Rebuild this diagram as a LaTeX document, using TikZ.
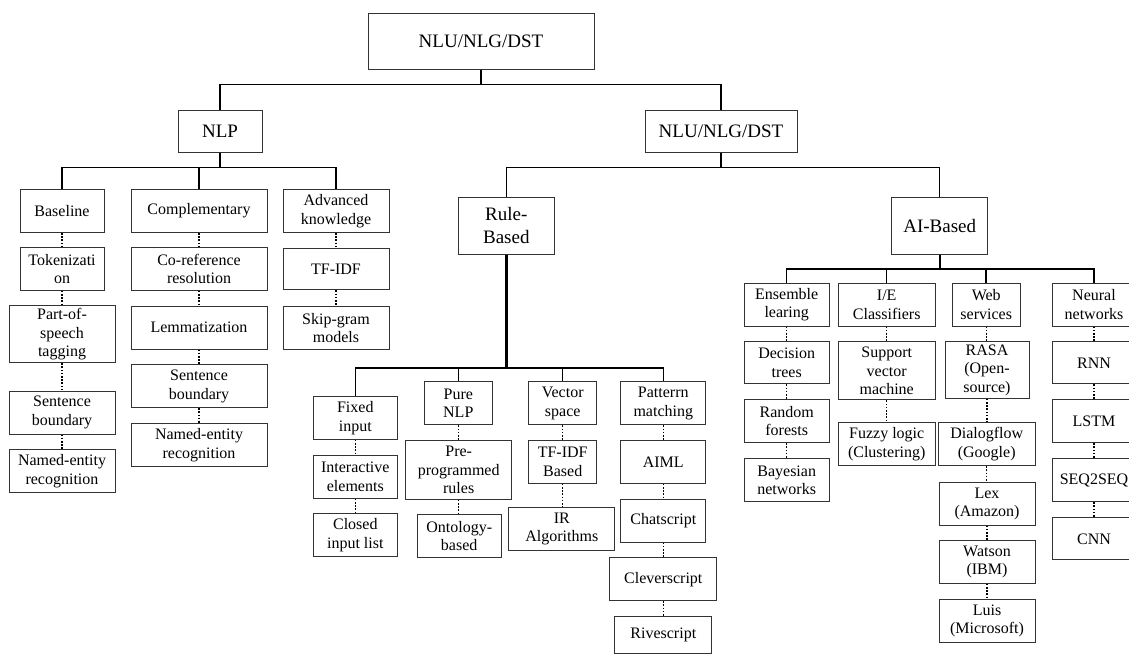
\documentclass[tikz,border=0pt]{standalone}
\usepackage{fontspec}
\setmainfont{Liberation Serif}
\begin{document}
\begin{tikzpicture}[x=1pt,y=-1pt,
  box/.style={draw=black!80, line width=1pt, align=center, inner sep=0pt,
    font=\fontsize{16}{18.4}\selectfont, fill=white},
  head/.style={box, font=\fontsize{19}{22.8}\selectfont},
  link/.style={line width=1.5pt},
  stem/.style={line width=2.2pt},
  dots/.style={line width=1.3pt, dash pattern=on 1.6pt off 1.6pt}]
\useasboundingbox (0,0) rectangle (1129,654);

% root and first level
\node[head, minimum width=226pt, minimum height=56pt] (top) at (481,41) {NLU/NLG/DST};
\node[head, minimum width=84pt, minimum height=42pt] (nlp) at (220,131) {NLP};
\node[head, minimum width=152pt, minimum height=42pt] (nlu) at (721,131) {NLU/NLG/DST};

% NLP branch
\node[box, minimum width=84pt, minimum height=43pt] (base) at (62,211) {Baseline};
\node[box, minimum width=136pt, minimum height=43pt] (comp) at (199,211) {Complementary};
\node[box, minimum width=106pt, minimum height=43pt] (adv) at (336,211) {Advanced\\knowledge};

\node[box, minimum width=84pt, minimum height=42.6pt] (tok) at (62,269) {Tokenizati\\on};
\node[box, minimum width=106pt, minimum height=56.7pt] (pos) at (62,334.3) {Part-of-\\speech\\tagging};
\node[box, minimum width=106pt, minimum height=43pt] (sbA) at (62,412.5) {Sentence\\boundary};
\node[box, minimum width=106pt, minimum height=42.7pt] (nerA) at (62,471.3) {Named-entity\\recognition};

\node[box, minimum width=136pt, minimum height=42.6pt] (coref) at (199,269) {Co-reference\\resolution};
\node[box, minimum width=136pt, minimum height=43pt] (lem) at (199,327.5) {Lemmatization};
\node[box, minimum width=136pt, minimum height=42.7pt] (sbB) at (199,386.3) {Sentence\\boundary};
\node[box, minimum width=136pt, minimum height=43.4pt] (nerB) at (199,445) {Named-entity\\recognition};

\node[box, minimum width=106pt, minimum height=41.7pt] (tfidf) at (336,269) {TF-IDF};
\node[box, minimum width=106pt, minimum height=42.3pt] (skip) at (336,328) {Skip-gram\\models};

% rule-based branch
\node[head, minimum width=96pt, minimum height=56.7pt] (rule) at (506.3,225.7) {Rule-\\Based};
\node[box, minimum width=84pt, minimum height=42.6pt] (fixed) at (355.3,418) {Fixed\\input};
\node[box, minimum width=68pt, minimum height=43.3pt] (pure) at (458.3,403.3) {Pure\\NLP};
\node[box, minimum width=68pt, minimum height=43.3pt] (vec) at (562.7,403.3) {Vector\\space};
\node[box, minimum width=84.7pt, minimum height=43.3pt] (pat) at (663.3,403.3) {Patterrn\\matching};

\node[box, minimum width=84pt, minimum height=43.3pt] (inter) at (355.3,476.7) {Interactive\\elements};
\node[box, minimum width=84pt, minimum height=42.7pt] (closed) at (355.3,535.3) {Closed\\input list};
\node[box, minimum width=106pt, minimum height=58.6pt] (pre) at (458.7,470) {Pre-\\programmed\\rules};
\node[box, minimum width=84.3pt, minimum height=43pt] (onto) at (459.2,535.8) {Ontology-\\based};
\node[box, minimum width=68pt, minimum height=42.6pt] (tfb) at (562.7,462) {TF-IDF\\Based};
\node[box, minimum width=106.3pt, minimum height=42.6pt] (ir) at (561.8,529) {IR\\Algorithms};
\node[box, minimum width=84.7pt, minimum height=42.6pt] (aiml) at (663.3,462) {AIML};
\node[box, minimum width=84.7pt, minimum height=42.7pt] (chat) at (663.3,520.7) {Chatscript};
\node[box, minimum width=106.7pt, minimum height=43pt] (clever) at (663.3,579.2) {Cleverscript};
\node[box, minimum width=96.7pt, minimum height=37pt] (rive) at (663.3,634.5) {Rivescript};

% AI-based branch
\node[head, minimum width=96pt, minimum height=56.7pt] (ai) at (939.7,225.7) {AI-Based};
\node[box, minimum width=84.7pt, minimum height=42.7pt] (ens) at (786.7,304.7) {Ensemble\\learing};
\node[box, minimum width=96.7pt, minimum height=42.7pt] (ie) at (886.7,304.7) {I/E\\Classifiers};
\node[box, minimum width=67.7pt, minimum height=42.7pt] (web) at (986.2,304.7) {Web\\services};
\node[box, minimum width=83.7pt, minimum height=42.7pt] (nn) at (1094,304.7) {Neural\\networks};

\node[box, minimum width=84.7pt, minimum height=42.3pt] (dt) at (786.7,362.8) {Decision\\trees};
\node[box, minimum width=84.7pt, minimum height=42.7pt] (rf) at (786.7,421.3) {Random\\forests};
\node[box, minimum width=84.7pt, minimum height=42.7pt] (bn) at (786.7,480.3) {Bayesian\\networks};

\node[box, minimum width=96.7pt, minimum height=58.3pt] (svm) at (886.7,370.8) {Support\\vector\\machine};
\node[box, minimum width=96.7pt, minimum height=43.3pt] (fuzzy) at (886.7,444) {Fuzzy logic\\(Clustering)};

\node[box, minimum width=84pt, minimum height=56.6pt] (rasa) at (987,370) {RASA\\(Open-\\source)};
\node[box, minimum width=96.7pt, minimum height=43.3pt] (dialog) at (986.7,444) {Dialogflow\\(Google)};
\node[box, minimum width=96pt, minimum height=42.7pt] (lex) at (987,503.7) {Lex\\(Amazon)};
\node[box, minimum width=96pt, minimum height=42.6pt] (watson) at (987,562) {Watson\\(IBM)};
\node[box, minimum width=96pt, minimum height=43pt] (luis) at (987,620.8) {Luis\\(Microsoft)};

\node[box, minimum width=83.7pt, minimum height=42.3pt] (rnn) at (1094,362.8) {RNN};
\node[box, minimum width=83.7pt, minimum height=42.7pt] (lstm) at (1094,421.3) {LSTM};
\node[box, minimum width=83.7pt, minimum height=42.7pt] (seq) at (1094,480.3) {SEQ2SEQ};
\node[box, minimum width=83.7pt, minimum height=42.3pt] (cnn) at (1094,538.8) {CNN};

% tree connectors
\foreach \c in {nlp,nlu} \draw[link] (top.south) -- ++(0,15) -| (\c.north);
\foreach \c in {base,comp,adv} \draw[link] (nlp.south) -- ++(0,15) -| (\c.north);
\foreach \c in {rule,ai} \draw[link] (nlu.south) -- ++(0,15) -| (\c.north);
\foreach \c in {fixed,pure,vec,pat} \draw[link] (rule.south) -- ++(0,113.6) -| (\c.north);
\foreach \c in {ens,ie,web,nn} \draw[link] (ai.south) -- ++(0,14.3) -| (\c.north);

% heavier trunks below the branching nodes
\draw[stem] (top.south) -- ++(0,15);
\draw[stem] (nlp.south) -- ++(0,15);
\draw[stem] (nlu.south) -- ++(0,15);
\draw[stem] (ai.south) -- ++(0,14.3);
\draw[line width=2.6pt] (rule.south) -- ++(0,113.6);

% dotted chains
\foreach \a/\b in {base/tok, tok/pos, pos/sbA, sbA/nerA,
                   comp/coref, coref/lem, lem/sbB, sbB/nerB,
                   adv/tfidf, tfidf/skip,
                   fixed/inter, inter/closed, pure/pre, pre/onto,
                   vec/tfb, tfb/ir, pat/aiml, aiml/chat, chat/clever, clever/rive,
                   ens/dt, dt/rf, rf/bn, ie/svm, svm/fuzzy,
                   web/rasa, rasa/dialog, dialog/lex, lex/watson, watson/luis,
                   nn/rnn, rnn/lstm, lstm/seq, seq/cnn}
  \draw[dots] (\a.south) -- (\a.south |- \b.north);
\end{tikzpicture}
\end{document}
